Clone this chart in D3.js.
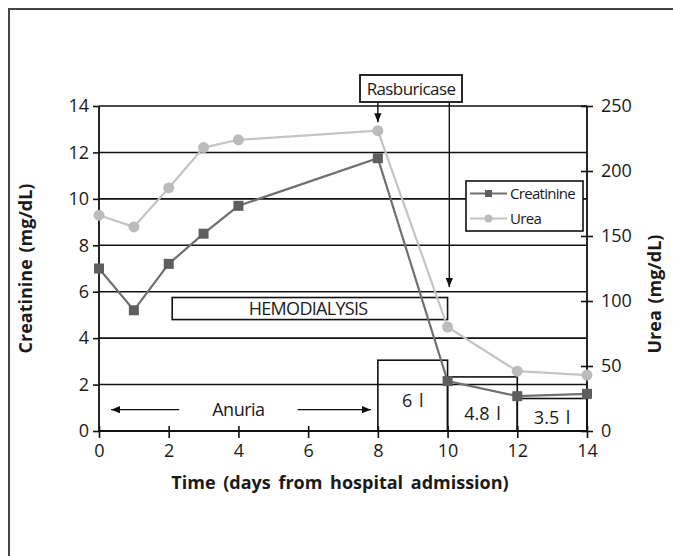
<!DOCTYPE html>
<html>
<head>
<meta charset="utf-8">
<script src="https://cdn.jsdelivr.net/npm/d3@7"></script>
<style>
  html, body { margin: 0; padding: 0; background: #fff; }
  svg { display: block; }
  text { font-family: "Open Sans", "DejaVu Sans", sans-serif; fill: #1a1a1a; }
</style>
</head>
<body>
<script>
// ---- data ----
const days = [0, 1, 2, 3, 4, 8, 10, 12, 14];
const creatinine = [7.0, 5.2, 7.2, 8.5, 9.7, 11.75, 2.15, 1.5, 1.6];
const urea = [166, 157, 187, 218, 224, 231, 80, 46, 43];

const xTicks = [0, 2, 4, 6, 8, 10, 12, 14];
const yLeftTicks = [0, 2, 4, 6, 8, 10, 12, 14];
const yRightTicks = [0, 50, 100, 150, 200, 250];

// urine volume boxes (day start, day end, height in creatinine units, label)
const volStart = [8, 10, 12];
const volEnd = [10, 12, 14];
const volHeight = [3.05, 2.33, 1.4];
const volLabel = ["6 l", "4.8 l", "3.5 l"];

// hemodialysis period box
const hemoDays = [2.1, 10];
const hemoLevels = [4.8, 5.75];

// ---- setup ----
const W = 673, H = 556;
const svg = d3.select("body").append("svg").attr("width", W).attr("height", H);

const x = d3.scaleLinear().domain([0, 14]).range([99, 587]);
const yL = d3.scaleLinear().domain([0, 14]).range([431, 106]);
const yR = d3.scaleLinear().domain([0, 250]).range([431, 106]);

// frame
svg.append("path").attr("d", `M9,${H} V9 H${W}`)
  .attr("fill", "none").attr("stroke", "#444").attr("stroke-width", 2);

// gridlines
svg.append("g").selectAll("line").data(yLeftTicks.filter(d => d > 0)).join("line")
  .attr("x1", x(0)).attr("x2", x(14))
  .attr("y1", d => yL(d)).attr("y2", d => yL(d))
  .attr("stroke", "#111").attr("stroke-width", 1.6);

// left axis
const gL = svg.append("g").attr("transform", `translate(${x(0)},0)`)
  .call(d3.axisLeft(yL).tickValues(yLeftTicks).tickSize(6).tickPadding(4));
// right axis
const gR = svg.append("g").attr("transform", `translate(${x(14)},0)`)
  .call(d3.axisRight(yR).tickValues(yRightTicks).tickSize(6).tickPadding(8));
// bottom axis
const gB = svg.append("g").attr("transform", `translate(0,${yL(0)})`)
  .call(d3.axisBottom(x).tickValues(xTicks).tickSize(6).tickPadding(4));

[gL, gR, gB].forEach(g => {
  g.select(".domain").attr("stroke", "#111").attr("stroke-width", 1.8);
  g.selectAll(".tick line").attr("stroke", "#111").attr("stroke-width", 1.6);
  g.selectAll(".tick text").attr("font-size", 18).attr("fill", "#1a1a1a")
    .attr("font-family", "'Open Sans', sans-serif");
});
// ticks cross axis on right and bottom
gR.selectAll(".tick line").attr("x1", -6);
gB.selectAll(".tick line").attr("y1", -5).attr("y2", 7);
gB.selectAll(".tick text").attr("dy", "0.9em");
gR.select(".domain").attr("d", `M0,${yR(0)}V${yR(250)}`);
gL.select(".domain").attr("d", `M0,${yL(0)}V${yL(14)}`);
gB.select(".domain").attr("d", `M${x(0)},0H${x(14)}`);

// hemodialysis box
svg.append("rect")
  .attr("x", x(hemoDays[0])).attr("y", yL(hemoLevels[1]))
  .attr("width", x(hemoDays[1]) - x(hemoDays[0]))
  .attr("height", yL(hemoLevels[0]) - yL(hemoLevels[1]))
  .attr("fill", "none").attr("stroke", "#111").attr("stroke-width", 1.6);
svg.append("text")
  .attr("x", x(6)).attr("y", yL((hemoLevels[0] + hemoLevels[1]) / 2))
  .attr("dy", "0.36em").attr("text-anchor", "middle")
  .attr("font-size", 18).attr("letter-spacing", -0.7).text("HEMODIALYSIS");

// volume boxes
const vol = svg.append("g");
volStart.forEach((s, i) => {
  vol.append("rect")
    .attr("x", x(s)).attr("y", yL(volHeight[i]))
    .attr("width", x(volEnd[i]) - x(s))
    .attr("height", yL(0) - yL(volHeight[i]))
    .attr("fill", "none").attr("stroke", "#111").attr("stroke-width", 1.6);
});
const volLabelY = [1.3, 0.75, 0.6];
volStart.forEach((s, i) => {
  vol.append("text")
    .attr("x", x((s + volEnd[i]) / 2)).attr("y", yL(volLabelY[i]))
    .attr("dy", "0.36em").attr("text-anchor", "middle")
    .attr("font-size", 18).attr("word-spacing", 2).text(volLabel[i]);
});

// arrow marker
const defs = svg.append("defs");
defs.append("marker").attr("id", "ah").attr("viewBox", "0 0 10 10")
  .attr("refX", 10).attr("refY", 5).attr("markerWidth", 9).attr("markerHeight", 9)
  .attr("markerUnits", "userSpaceOnUse").attr("orient", "auto")
  .append("path").attr("d", "M0,1 L10,5 L0,9 Z").attr("fill", "#111");

// Anuria
const anY = yL(0.92);
svg.append("line").attr("x1", x(2.3)).attr("x2", x(0.35)).attr("y1", anY).attr("y2", anY)
  .attr("stroke", "#111").attr("stroke-width", 1.4).attr("marker-end", "url(#ah)");
svg.append("line").attr("x1", x(5.7)).attr("x2", x(7.8)).attr("y1", anY).attr("y2", anY)
  .attr("stroke", "#111").attr("stroke-width", 1.4).attr("marker-end", "url(#ah)");
svg.append("text").attr("x", x(4)).attr("y", anY).attr("dy", "0.36em")
  .attr("text-anchor", "middle").attr("font-size", 18).attr("letter-spacing", -0.5).text("Anuria");

// Rasburicase box
svg.append("rect").attr("x", 360).attr("y", 75).attr("width", 102).attr("height", 27)
  .attr("fill", "#fff").attr("stroke", "#111").attr("stroke-width", 1.8);
svg.append("text").attr("x", 411).attr("y", 88.5).attr("dy", "0.36em")
  .attr("text-anchor", "middle").attr("font-size", 17).attr("letter-spacing", -0.6).text("Rasburicase");
svg.append("line").attr("x1", x(8)).attr("x2", x(8)).attr("y1", 102).attr("y2", yL(13.3))
  .attr("stroke", "#111").attr("stroke-width", 1.4).attr("marker-end", "url(#ah)");
svg.append("line").attr("x1", x(10.05)).attr("x2", x(10.05)).attr("y1", 102).attr("y2", yL(6.2))
  .attr("stroke", "#111").attr("stroke-width", 1.4).attr("marker-end", "url(#ah)");

// series lines
const ptsC = days.map((d, i) => [x(d), yL(creatinine[i])]);
const ptsU = days.map((d, i) => [x(d), yR(urea[i])]);
const line = d3.line();
svg.append("path").attr("d", line(ptsU)).attr("fill", "none")
  .attr("stroke", "#c4c4c4").attr("stroke-width", 2.2);
svg.append("path").attr("d", line(ptsC)).attr("fill", "none")
  .attr("stroke", "#707070").attr("stroke-width", 2.2);
svg.append("g").selectAll("circle").data(ptsU).join("circle")
  .attr("cx", d => d[0]).attr("cy", d => d[1]).attr("r", 5.5).attr("fill", "#bcbcbc");
svg.append("g").selectAll("rect").data(ptsC).join("rect")
  .attr("x", d => d[0] - 5).attr("y", d => d[1] - 5).attr("width", 10).attr("height", 10)
  .attr("fill", "#5e5e5e");

// legend
const lg = svg.append("g");
lg.append("rect").attr("x", 466).attr("y", 181).attr("width", 117).attr("height", 50)
  .attr("fill", "#fff").attr("stroke", "#111").attr("stroke-width", 1.6);
[["Creatinine", "#707070", 193.5, "sq"], ["Urea", "#c4c4c4", 218.5, "ci"]].forEach(([lab, col, yy, m]) => {
  lg.append("line").attr("x1", 470).attr("x2", 507).attr("y1", yy).attr("y2", yy)
    .attr("stroke", col).attr("stroke-width", 2);
  if (m === "sq") lg.append("rect").attr("x", 485).attr("y", yy - 3.5).attr("width", 7).attr("height", 7).attr("fill", "#5e5e5e");
  else lg.append("circle").attr("cx", 488.5).attr("cy", yy).attr("r", 4).attr("fill", "#bcbcbc");
  lg.append("text").attr("x", 510).attr("y", yy).attr("dy", "0.36em")
    .attr("font-size", 15).attr("letter-spacing", -0.7).text(lab);
});

// axis titles
svg.append("text").attr("transform", `translate(26,${yL(7)}) rotate(-90)`)
  .attr("text-anchor", "middle").attr("dy", "0.36em")
  .attr("font-size", 18).attr("font-weight", "bold").attr("word-spacing", 2)
  .text("Creatinine (mg/dL)");
svg.append("text").attr("transform", `translate(655,${yL(5.9)}) rotate(-90)`)
  .attr("text-anchor", "middle").attr("dy", "0.36em")
  .attr("font-size", 18).attr("font-weight", "bold").attr("word-spacing", 2)
  .text("Urea (mg/dL)");
svg.append("text").attr("x", 340).attr("y", 483).attr("dy", "0.36em")
  .attr("text-anchor", "middle")
  .attr("font-size", 18).attr("font-weight", "bold").attr("word-spacing", 3)
  .text("Time (days from hospital admission)");
</script>
</body>
</html>
